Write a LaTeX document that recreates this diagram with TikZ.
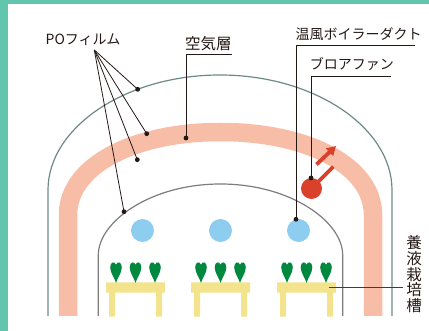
\documentclass[tikz,border=0pt]{standalone}
\usepackage{fontspec}
\newfontfamily\jp{Noto Sans CJK JP}
\usetikzlibrary{arrows.meta}
\definecolor{frameteal}{HTML}{62C5AE}
\definecolor{archgreen}{HTML}{6B8A87}
\definecolor{innergray}{HTML}{7D7D7D}
\definecolor{airsalmon}{HTML}{F8BDA6}
\definecolor{mistblue}{HTML}{8DCDF0}
\definecolor{tableyellow}{HTML}{F4E38D}
\definecolor{leafgreen}{HTML}{00883E}
\definecolor{fanred}{HTML}{D9412B}
\definecolor{leadblack}{HTML}{231815}
\tikzset{
  lbl/.style={font=\jp\fontsize{14}{16}\selectfont, inner sep=0, anchor=base west, text=leadblack},
  lblbig/.style={font=\jp\fontsize{15.5}{17}\selectfont, inner sep=0, anchor=base west, text=leadblack},
  leader/.style={draw=leadblack, line width=0.8pt},
  dot/.style={circle, fill=leadblack, inner sep=0, minimum size=4.8pt},
  mist/.style={circle, fill=mistblue, inner sep=0, minimum size=23pt},
  leaf/.pic={\fill[leafgreen] (0,0) .. controls (-1.5,-5) and (-5.8,-10) .. (-5.8,-15.5)
      .. controls (-5.8,-21) and (-1.2,-22) .. (0,-18)
      .. controls (1.2,-22) and (5.8,-21) .. (5.8,-15.5)
      .. controls (5.8,-10) and (1.5,-5) .. (0,0) -- cycle;},
  bench/.pic={\fill[tableyellow] (-29.5,0) rectangle (29.5,10.4)
      (-26.5,10.4) rectangle (-20.5,34.4) (20.5,10.4) rectangle (26.5,34.4);}
}
\begin{document}
\begin{tikzpicture}[x=1pt,y=-1pt]
\useasboundingbox (0,0) rectangle (429,331);
% frame strips
\fill[frameteal] (0,0) rectangle (429,4);
\fill[frameteal] (0,0) rectangle (7.7,331);

% warm air layer between the two films
\draw[airsalmon, line width=18.5pt] (68,316) -- (68,215)
  .. controls (68,165) and (135,132) .. (220.5,132)
  .. controls (306,132) and (373,165) .. (373,215) -- (373,316);

% outer film
\draw[archgreen, line width=1.2pt] (48,316) -- (48,190)
  .. controls (48,128) and (125,75) .. (220,75)
  .. controls (315,75) and (392,128) .. (392,190) -- (392,316);

% inner film
\draw[innergray, line width=1.2pt] (98.3,316) -- (98.3,255)
  .. controls (98.3,222) and (150,184) .. (220.5,184)
  .. controls (291,184) and (342.7,222) .. (342.7,255) -- (342.7,316);

% duct outlets
\node[mist] (m1) at (142.5,230.5) {};
\node[mist] (m2) at (220.5,230.5) {};
\node[mist] (m3) at (298.5,230.5) {};

% benches with plants
\foreach \c in {135.5,220.5,306.5}{
  \pic at (\c,282.3) {bench};
  \foreach \d in {-19.5,0,19.5}{ \pic at (\c+\d,282.8) {leaf}; }
}

% blower fan
\node[circle, fill=fanred, inner sep=0, minimum size=21pt] (fan) at (311.5,188.5) {};
\coordinate (handle) at (333.3,166.7);
\draw[fanred, line width=3.8pt] (fan.center) -- (handle);
\coordinate (flowfrom) at (316.5,164.5);
\coordinate (flowto) at (336,146);
\draw[fanred, line width=3.8pt, -{Triangle[length=9pt,width=10pt]}] (flowfrom) -- (flowto);

% labels
\node[lbl] (po) at (45.5,44.3) {POフィルム};
\node[lblbig] (kuki) at (184.9,49.9) {空気層};
\node[lbl] (duct) at (295.3,39.1) {温風ボイラーダクト};
\node[lbl] (blower) at (309.6,69.3) {ブロアファン};
\node[font=\jp\fontsize{15.5}{15.7}\selectfont, inner sep=0, anchor=north, align=center, text=leadblack]
  (tank) at (414,235.5) {養\\液\\栽\\培\\槽};

% leader points
\node[dot] (po1) at (137.7,89.3) {};
\node[dot] (po2) at (146.7,133.7) {};
\node[dot] (po3) at (137.3,159.7) {};
\node[dot] (po4) at (124,211.7) {};
\node[dot] (kukidot) at (186,138) {};
\node[dot] (ductdot) at (296,219.3) {};
\node[dot] (fandot) at (311,178) {};

\coordinate (pohub) at (94.3,50);
\coordinate (kukiL) at (186,54);
\coordinate (kukiR) at (231.5,54);
\coordinate (ductL) at (296,45);
\coordinate (ductR) at (414.5,45);
\coordinate (blowL) at (311,76);
\coordinate (blowR) at (390.5,76);
\coordinate (tankA) at (329,287.3);
\coordinate (tankB) at (403,287.3);

% leaders
\foreach \p in {po1,po2,po3,po4}{ \draw[leader] (pohub) -- (\p.center); }
\draw[leader] (kukiR) -- (kukiL) -- (kukidot.center);
\draw[leader] (ductR) -- (ductL) -- (ductdot.center);
\draw[leader] (blowR) -- (blowL) -- (fandot.center);
\draw[leader, draw=leadblack!85] (tankA) -- (tankB);
\end{tikzpicture}
\end{document}
